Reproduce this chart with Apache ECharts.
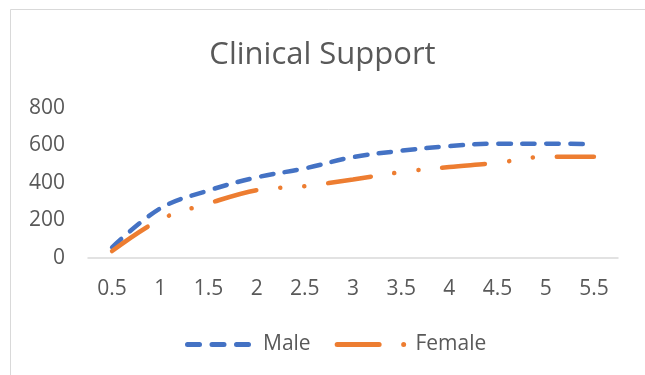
<!DOCTYPE html>
<html><head><meta charset="utf-8">
<script src="https://cdn.jsdelivr.net/npm/echarts@6/dist/echarts.min.js"></script>
<style>html,body{margin:0;padding:0;background:#fff}#c{width:645px;height:375px}</style>
</head><body><div id="c"></div>
<script>
const categories = ['0.5','1','1.5','2','2.5','3','3.5','4','4.5','5','5.5'];
const maleValues = [57, 265, 360, 430, 478, 538, 572, 597, 610, 610, 608];
const femaleValues = [37, 205, 291, 362, 383, 419, 458, 485, 508, 540, 540];
const yTicks = [0, 200, 400, 600, 800];

function capsule(a, b, h) {
  const r = h / 2;
  return 'M' + (a + r) + ',0H' + (b - r) + 'A' + r + ',' + r + ' 0 0 1 ' + (b - r) + ',' + h +
         'H' + (a + r) + 'A' + r + ',' + r + ' 0 0 1 ' + (a + r) + ',0Z';
}
const maleIcon = 'path://' + capsule(0, 17, 5) + capsule(24.5, 41.5, 5) + capsule(49, 66, 5);
const femaleIcon = 'path://' + capsule(0, 47, 5) + capsule(66.5, 71.5, 5);

const chart = echarts.init(document.getElementById('c'));
const font = 'Open Sans';
chart.setOption({
  animation: false,
  backgroundColor: '#fff',
  graphic: [{type:'rect', shape:{x:10.5,y:9.5,width:700,height:400}, style:{fill:'none',stroke:'#d9d9d9',lineWidth:1}}],
  title: {text:'Clinical Support', left:'center', top:35, textStyle:{fontFamily:font, fontWeight:'normal', fontSize:31, color:'#595959'}},
  grid: {left:88, right:27, top:108, bottom:117},
  legend: {top:329, left:180, itemWidth:72, itemHeight:5, itemGap:24,
    textStyle:{fontFamily:font, fontSize:21, color:'#595959', padding:[0,0,0,4]},
    data:[{name:'Male', icon:maleIcon}, {name:'Female', icon:femaleIcon}]},
  xAxis: {type:'category', data:categories, boundaryGap:true,
    axisLine:{lineStyle:{color:'#d9d9d9', width:1.5}}, axisTick:{show:false},
    axisLabel:{fontFamily:font, fontSize:21, color:'#595959', margin:21}},
  yAxis: {type:'value', min:yTicks[0], max:yTicks[yTicks.length-1], interval:200,
    splitLine:{show:false}, axisLine:{show:false}, axisTick:{show:false},
    axisLabel:{fontFamily:font, fontSize:21, color:'#595959', margin:23}},
  series: [
    {name:'Male', type:'line', data:maleValues, smooth:0.35, showSymbol:false, symbol:'none',
     color:'#4472c4', itemStyle:{color:'#4472c4'},
     lineStyle:{color:'#4472c4', width:4.5, type:[12.5,11.5], cap:'round'}},
    {name:'Female', type:'line', data:femaleValues, smooth:0.35, showSymbol:false, symbol:'none',
     color:'#ed7d31', itemStyle:{color:'#ed7d31'},
     lineStyle:{color:'#ed7d31', width:4.5, type:[43,24,0.1,24,0.1,24], cap:'round'}}
  ]
});
</script></body></html>
